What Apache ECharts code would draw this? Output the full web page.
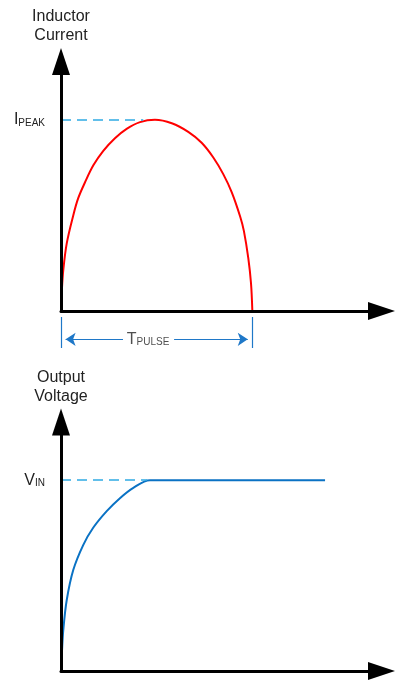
<html lang="en">
<head>
    <meta http-equiv="Content-Type" content="text/html; charset=UTF-8">
    <script type="text/javascript" src="https://cdn.jsdelivr.net/npm/echarts@6/dist/echarts.min.js"></script>
    <style>
        html, body { margin: 0; padding: 0; background: #fff; }
    </style>
</head>
<body>
<div id="main" style="height:681px;width:398px;"></div>
<script type="text/javascript">
    // pulse time in units of T_PULSE, current in units of I_PEAK
    var pulseTime = [0, 0.004, 0.012, 0.030, 0.064, 0.090, 0.125, 0.169, 0.221, 0.282, 0.343, 0.413, 0.491,
        0.579, 0.665, 0.735, 0.796, 0.848, 0.892, 0.937, 0.956, 0.979, 0.993, 1.0];
    var inductorCurrent = [0, 0.10, 0.215, 0.354, 0.500, 0.590, 0.672, 0.762, 0.838, 0.904, 0.953, 0.988, 1.0,
        0.982, 0.937, 0.880, 0.803, 0.716, 0.622, 0.492, 0.418, 0.275, 0.145, 0];

    // output voltage in units of V_IN
    var chargeTime = [0, 0.005, 0.012, 0.030, 0.064, 0.116, 0.169, 0.239, 0.308, 0.378, 0.465, 0.55, 1.38];
    var outputVoltage = [0, 0.10, 0.215, 0.372, 0.529, 0.660, 0.752, 0.838, 0.906, 0.960, 1.0, 1.0, 1.0];

    var peakLabel = ['I', 'PEAK'];
    var vinLabel = ['V', 'IN'];
    var pulseLabel = ['T', 'PULSE'];

    var textColor = '#222';
    var font = 'Liberation Sans';
    var dashColor = '#2faae4';

    function pairs(xs, ys) {
        var out = [];
        for (var i = 0; i < xs.length; i++) {
            out.push([xs[i], ys[i]]);
        }
        return out;
    }

    var subRich = {
        a: { fontSize: 16, color: textColor, fontFamily: font },
        b: { fontSize: 10, color: textColor, fontFamily: font, verticalAlign: 'bottom' }
    };

    function arrowAxis(grid, max, extra) {
        var axis = {
            type: 'value',
            gridIndex: grid,
            min: 0,
            max: max,
            z: 5,
            axisLine: {
                show: true,
                onZero: false,
                symbol: ['none', 'triangle'],
                symbolSize: [18, 27],
                lineStyle: { color: '#000', width: 3 }
            },
            axisTick: { show: false },
            axisLabel: { show: false },
            splitLine: { show: false }
        };
        for (var k in extra) axis[k] = extra[k];
        return axis;
    }

    function yLabel(parts) {
        return {
            show: true,
            margin: 16,
            formatter: function (v) {
                return v === 1 ? '{a|' + parts[0] + '}{b|' + parts[1] + '}' : '';
            },
            rich: subRich
        };
    }

    var nameStyle = { fontSize: 16, lineHeight: 19, color: textColor, fontFamily: font, align: 'center' };

    var myChart = echarts.init(document.getElementById('main'));

    var option = {
        animation: false,
        textStyle: { fontFamily: font },
        grid: [
            { left: 61, top: 61.5, width: 320.5, height: 249.5 },
            { left: 61, top: 317, width: 320.5, height: 31 },
            { left: 61, top: 422, width: 320.5, height: 249 }
        ],
        xAxis: [
            arrowAxis(0, 1.675, {}),
            { type: 'value', gridIndex: 1, min: 0, max: 1.675, show: false },
            arrowAxis(2, 1.675, {})
        ],
        yAxis: [
            arrowAxis(0, 1.305, {
                interval: 1,
                axisLabel: yLabel(peakLabel),
                name: 'Inductor\nCurrent',
                nameLocation: 'end',
                nameGap: 16,
                nameTextStyle: nameStyle
            }),
            { type: 'value', gridIndex: 1, min: 0, max: 1, show: false },
            arrowAxis(2, 1.305, {
                interval: 1,
                axisLabel: yLabel(vinLabel),
                name: 'Output\nVoltage',
                nameLocation: 'end',
                nameGap: 16,
                nameTextStyle: nameStyle
            })
        ],
        series: [
            {
                name: 'Inductor Current',
                type: 'line',
                xAxisIndex: 0,
                yAxisIndex: 0,
                data: pairs(pulseTime, inductorCurrent),
                smooth: 0.35,
                showSymbol: false,
                z: 2,
                lineStyle: { color: '#ff0000', width: 2 },
                markLine: {
                    silent: true,
                    symbol: 'none',
                    label: { show: false },
                    lineStyle: { color: dashColor, type: [10, 6], width: 1.7 },
                    data: [[{ coord: [0, 1] }, { coord: [0.43, 1] }]]
                }
            },
            {
                name: 'T pulse',
                type: 'scatter',
                xAxisIndex: 1,
                yAxisIndex: 1,
                data: [[0.455, 0.28]],
                symbolSize: 1,
                itemStyle: { color: 'rgba(0,0,0,0)' },
                label: {
                    show: true,
                    position: 'inside',
                    formatter: '{a|' + pulseLabel[0] + '}{b|' + pulseLabel[1] + '}',
                    rich: subRich
                },
                markLine: {
                    silent: true,
                    symbol: 'none',
                    label: { show: false },
                    lineStyle: { color: '#1f78c8', type: 'solid', width: 1.2 },
                    data: [
                        { xAxis: 0 },
                        { xAxis: 1 },
                        [{ coord: [0.024, 0.28], symbol: 'arrow', symbolSize: 10 }, { coord: [0.324, 0.28], symbol: 'none' }],
                        [{ coord: [0.591, 0.28], symbol: 'none' }, { coord: [0.976, 0.28], symbol: 'arrow', symbolSize: 10 }]
                    ]
                }
            },
            {
                name: 'Output Voltage',
                type: 'line',
                xAxisIndex: 2,
                yAxisIndex: 2,
                data: pairs(chargeTime, outputVoltage),
                smooth: 0.35,
                showSymbol: false,
                z: 2,
                lineStyle: { color: '#0a72c4', width: 2 },
                markLine: {
                    silent: true,
                    symbol: 'none',
                    label: { show: false },
                    lineStyle: { color: dashColor, type: [10, 6], width: 1.7 },
                    data: [[{ coord: [0, 1] }, { coord: [0.45, 1] }]]
                }
            }
        ]
    };

    myChart.setOption(option);
</script>
</body>
</html>
